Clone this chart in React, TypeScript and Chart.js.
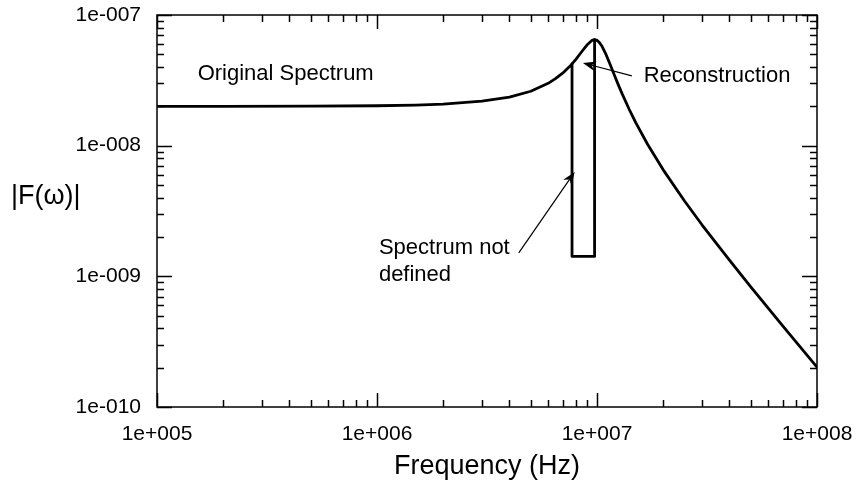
import { useEffect, useRef } from 'react';
import { Chart, registerables } from 'chart.js';

Chart.register(...registerables);

// Spectrum magnitude |F(ω)| sampled against frequency (Hz)
const freqHz = [
  1e5, 2e5, 5e5, 1e6, 1.5e6, 2e6, 3e6, 4e6, 5e6, 6e6, 6.5e6, 7e6, 7.5e6, 7.7e6,
  8e6, 8.5e6, 9e6, 9.5e6, 9.75e6, 1e7, 1.02e7, 1.05e7, 1.1e7, 1.15e7, 1.2e7,
  1.25e7, 1.3e7, 1.4e7, 1.5e7, 1.7e7, 2e7, 2.5e7, 3e7, 4e7, 5e7, 7e7, 1e8,
];
const magnitude = [
  2.0e-8, 2.0e-8, 2.005e-8, 2.02e-8, 2.044e-8, 2.08e-8, 2.19e-8, 2.355e-8, 2.61e-8,
  3.0e-8, 3.27e-8, 3.6e-8, 4.03e-8, 4.23e-8, 4.56e-8, 5.21e-8, 5.89e-8, 6.4e-8,
  6.48e-8, 6.4e-8, 6.22e-8, 5.82e-8, 4.97e-8, 4.14e-8, 3.46e-8, 2.92e-8, 2.5e-8,
  1.9e-8, 1.5e-8, 1.02e-8, 6.53e-9, 3.77e-9, 2.48e-9, 1.33e-9, 8.32e-10, 4.16e-10,
  2.02e-10,
];

// Band where the measured spectrum is missing
const gapStartHz = 7.7e6;
const gapEndHz = 9.75e6;
const gapFloor = 1.42e-9;

const xTickValues = [1e5, 1e6, 1e7, 1e8];
const xTickLabels = ['1e+005', '1e+006', '1e+007', '1e+008'];
const yTickValues = [1e-10, 1e-9, 1e-8, 1e-7];
const yTickLabels = ['1e-010', '1e-009', '1e-008', '1e-007'];

const xTitle = 'Frequency (Hz)';
const yTitle = '|F(\u03c9)|';

// Text notes anchored in data coordinates (left edge, vertical middle)
const noteTexts = ['Original Spectrum', 'Reconstruction', 'Spectrum not', 'defined'];
const noteX = [1.53e5, 1.63e7, 1.02e6, 1.02e6];
const noteY = [3.54e-8, 3.39e-8, 1.64e-9, 1.02e-9];

// Arrows: tail -> tip, in data coordinates
const arrowFromX = [1.44e7, 4.41e6];
const arrowFromY = [3.42e-8, 1.51e-9];
const arrowToX = [8.63e6, 7.92e6];
const arrowToY = [4.3e-8, 6.3e-9];

const FONT = '"Liberation Sans", Arial, Helvetica, sans-serif';

function buildOriginal() {
  const pts: { x: number; y: number }[] = [];
  for (let i = 0; i < freqHz.length; i++) {
    const f = freqHz[i];
    if (f <= gapStartHz) pts.push({ x: f, y: magnitude[i] });
    if (f === gapStartHz) {
      pts.push({ x: gapStartHz, y: gapFloor });
      pts.push({ x: gapEndHz, y: gapFloor });
    }
    if (f >= gapEndHz) pts.push({ x: f, y: magnitude[i] });
  }
  return pts;
}

function buildReconstruction() {
  const pts: { x: number; y: number }[] = [];
  for (let i = 0; i < freqHz.length; i++) {
    if (freqHz[i] >= gapStartHz && freqHz[i] <= gapEndHz) {
      pts.push({ x: freqHz[i], y: magnitude[i] });
    }
  }
  return pts;
}

const framePlugin = {
  id: 'frameAndNotes',
  afterDraw(chart: any) {
    const { ctx, chartArea: a, scales } = chart;
    const xs = scales.x;
    const ys = scales.y;
    ctx.save();
    ctx.strokeStyle = '#000';
    ctx.fillStyle = '#000';
    ctx.lineWidth = 1.5;
    ctx.strokeRect(a.left, a.top, a.right - a.left, a.bottom - a.top);

    const majorLen = 14;
    const minorLen = 7;
    ctx.beginPath();
    // x ticks, bottom and top, pointing inward
    for (let e = 5; e <= 8; e++) {
      for (let m = 1; m <= 9; m++) {
        const v = m * Math.pow(10, e);
        if (v > 1e8 * 1.0001) break;
        const px = Math.round(xs.getPixelForValue(v)) + 0.5;
        const len = m === 1 ? majorLen : minorLen;
        ctx.moveTo(px, a.bottom);
        ctx.lineTo(px, a.bottom - len);
        ctx.moveTo(px, a.top);
        ctx.lineTo(px, a.top + len);
      }
    }
    // y ticks, left and right
    for (let e = -10; e <= -7; e++) {
      for (let m = 1; m <= 9; m++) {
        const v = m * Math.pow(10, e);
        if (v > 1e-7 * 1.0001) break;
        const py = Math.round(ys.getPixelForValue(v)) + 0.5;
        const len = m === 1 ? majorLen + 1 : minorLen;
        ctx.moveTo(a.left, py);
        ctx.lineTo(a.left + len, py);
        ctx.moveTo(a.right, py);
        ctx.lineTo(a.right - len, py);
      }
    }
    ctx.stroke();

    // notes
    ctx.font = `22px ${FONT}`;
    ctx.textAlign = 'left';
    ctx.textBaseline = 'middle';
    for (let i = 0; i < noteTexts.length; i++) {
      ctx.fillText(noteTexts[i], xs.getPixelForValue(noteX[i]), ys.getPixelForValue(noteY[i]));
    }

    // arrows
    ctx.lineWidth = 1.2;
    for (let i = 0; i < arrowFromX.length; i++) {
      const x0 = xs.getPixelForValue(arrowFromX[i]);
      const y0 = ys.getPixelForValue(arrowFromY[i]);
      const x1 = xs.getPixelForValue(arrowToX[i]);
      const y1 = ys.getPixelForValue(arrowToY[i]);
      const ang = Math.atan2(y1 - y0, x1 - x0);
      const headLen = 13;
      const headHalf = 5;
      ctx.beginPath();
      ctx.moveTo(x0, y0);
      ctx.lineTo(x1 - Math.cos(ang) * headLen * 0.7, y1 - Math.sin(ang) * headLen * 0.7);
      ctx.stroke();
      const bx = x1 - Math.cos(ang) * headLen;
      const by = y1 - Math.sin(ang) * headLen;
      const nx = -Math.sin(ang);
      const ny = Math.cos(ang);
      const cx = x1 - Math.cos(ang) * headLen * 0.7;
      const cy = y1 - Math.sin(ang) * headLen * 0.7;
      ctx.beginPath();
      ctx.moveTo(x1, y1);
      ctx.lineTo(bx + nx * headHalf, by + ny * headHalf);
      ctx.lineTo(cx, cy);
      ctx.lineTo(bx - nx * headHalf, by - ny * headHalf);
      ctx.closePath();
      ctx.fill();
    }

    // axis titles
    ctx.font = `27px ${FONT}`;
    ctx.textAlign = 'left';
    ctx.fillText(yTitle, 11, 197);
    ctx.textAlign = 'center';
    ctx.fillText(xTitle, (a.left + a.right) / 2, 467);
    ctx.restore();
  },
};

function noScalePadding(s: any) {
  s.paddingTop = 0;
  s.paddingBottom = 0;
  s.paddingLeft = 0;
  s.paddingRight = 0;
}

export default function App() {
  const canvasRef = useRef<HTMLCanvasElement | null>(null);

  useEffect(() => {
    const canvas = canvasRef.current;
    if (!canvas) return;
    const chart = new Chart(canvas, {
      type: 'scatter',
      data: {
        datasets: [
          {
            label: 'Original Spectrum',
            data: buildOriginal(),
            showLine: true,
            borderColor: '#000',
            borderWidth: 2.8,
            pointRadius: 0,
            tension: 0,
          },
          {
            label: 'Reconstruction',
            data: buildReconstruction(),
            showLine: true,
            borderColor: '#000',
            borderWidth: 2.8,
            pointRadius: 0,
            tension: 0,
          },
        ],
      },
      options: {
        responsive: false,
        animation: false,
        events: [],
        layout: { padding: { top: 15, right: 40, left: 0, bottom: 0 } },
        elements: { line: { borderJoinStyle: 'round', borderCapStyle: 'round' } },
        plugins: { legend: { display: false }, tooltip: { enabled: false } },
        scales: {
          x: {
            type: 'logarithmic',
            min: 1e5,
            max: 1e8,
            grid: { display: false, drawTicks: false },
            border: { display: false },
            afterBuildTicks: (s: any) => {
              s.ticks = xTickValues.map((value) => ({ value }));
            },
            afterFit: (s: any) => {
              s.height = 81;
              noScalePadding(s);
            },
            ticks: {
              callback: (_v: any, i: number) => xTickLabels[i],
              font: { family: FONT, size: 21 },
              color: '#000',
              padding: 15,
              maxRotation: 0,
              autoSkip: false,
            },
          },
          y: {
            type: 'logarithmic',
            min: 1e-10,
            max: 1e-7,
            grid: { display: false, drawTicks: false },
            border: { display: false },
            afterBuildTicks: (s: any) => {
              s.ticks = yTickValues.map((value) => ({ value }));
            },
            afterFit: (s: any) => {
              s.width = 157;
              noScalePadding(s);
            },
            ticks: {
              callback: (_v: any, i: number) => yTickLabels[i],
              font: { family: FONT, size: 21 },
              color: '#000',
              padding: 16,
              autoSkip: false,
            },
          },
        },
      },
      plugins: [framePlugin],
    });
    return () => chart.destroy();
  }, []);

  return (
    <div style={{ position: 'absolute', left: 0, top: 0, width: 857, height: 488, background: '#fff' }}>
      <canvas ref={canvasRef} width={857} height={488} style={{ display: 'block' }} />
    </div>
  );
}
